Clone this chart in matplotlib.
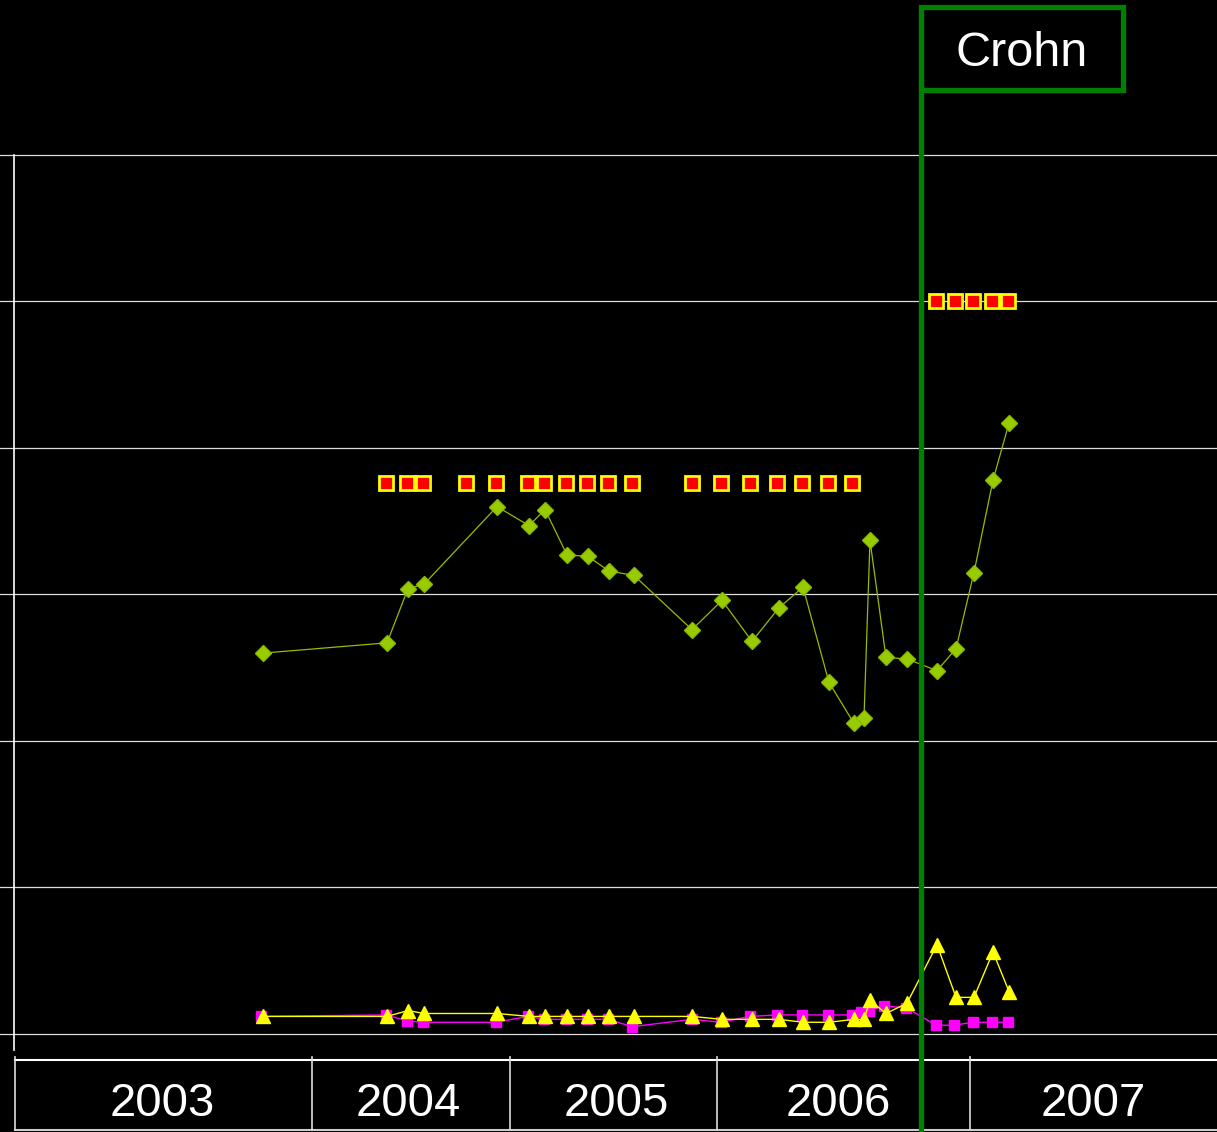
import matplotlib
matplotlib.use('Agg')
import matplotlib.pyplot as plt
from matplotlib.patches import Rectangle

plt.rcParams['font.family'] = ['Liberation Sans', 'DejaVu Sans']

# x positions along the time axis (chart units), values in chart units
diamond_x = [263, 387, 408, 424, 497, 529, 545, 567, 588, 609, 634, 692, 722, 752,
             779, 803, 829, 854, 864, 870, 886, 907, 937, 956, 974, 993, 1009]
diamond_y = [26.0, 26.7, 30.4, 30.7, 36.0, 34.7, 35.8, 32.7, 32.6, 31.6, 31.3, 27.6,
             29.6, 26.8, 29.1, 30.5, 24.0, 21.2, 21.6, 33.7, 25.7, 25.6, 24.8, 26.3,
             31.5, 37.8, 41.7]

dose_x = [386, 407, 423, 466, 496, 528, 544, 566, 587, 608, 632,
          692, 721, 750, 777, 802, 828, 852, 936, 955, 973, 992, 1008]
dose_y = [37.6] * 18 + [50.0] * 5

tri_x = [263, 387, 408, 424, 497, 529, 545, 567, 588, 609, 634, 692, 722, 752,
         779, 803, 829, 854, 864, 870, 886, 907, 937, 956, 974, 993, 1009]
tri_y = [1.2, 1.2, 1.6, 1.4, 1.4, 1.2, 1.2, 1.2, 1.2, 1.2, 1.2, 1.2, 1.0, 1.0,
         1.0, 0.8, 0.8, 1.0, 1.0, 2.3, 1.4, 2.1, 6.1, 2.5, 2.5, 5.6, 2.9]

mag_x = [261, 386, 407, 423, 496, 528, 544, 566, 587, 608, 632, 692, 721, 750,
         777, 802, 828, 852, 861, 869, 884, 906, 936, 954, 973, 992, 1008]
mag_y = [1.2, 1.3, 0.9, 0.8, 0.8, 1.2, 1.0, 1.0, 1.0, 1.0, 0.5, 1.0, 0.8, 1.2,
         1.3, 1.3, 1.3, 1.3, 1.5, 1.6, 1.9, 1.8, 0.6, 0.6, 0.8, 0.8, 0.8]

years = ['2003', '2004', '2005', '2006', '2007']
year_edges = [15, 312, 510, 717, 970, 1217]
grid_vals = [0, 10, 20, 30, 40, 50, 60]
crohn_x = 921

fig = plt.figure(figsize=(12.17, 11.32), dpi=100, facecolor='black')
ax = fig.add_axes([0, 0, 1, 1])
ax.set_facecolor('black')
ax.set_xlim(0, 1217)
ax.set_ylim(-6.69, 70.58)
ax.axis('off')

for g in grid_vals:
    ax.axhline(g, color='#dddddd', lw=0.9, zorder=1)
ax.plot([14, 14], [-1.1, 60], color='white', lw=1.2, zorder=1)

# year table under the plot
ax.plot([year_edges[0], year_edges[-1]], [-1.77, -1.77], color='white', lw=1.5)
ax.plot([year_edges[0], year_edges[-1]], [-6.55, -6.55], color='#cccccc', lw=1.5)
for e in year_edges[:-1]:
    ax.plot([e, e], [-1.6, -6.55], color='#dddddd', lw=1.2)
label_x = [162, 408, 616, 838, 1093]
for xc, yr in zip(label_x, years):
    ax.text(xc, -4.75, yr, color='white', fontsize=34, ha='center', va='center')

ax.plot(diamond_x, diamond_y, color='#99bb00', lw=0.9, marker='D', ms=8.5,
        mfc='#99cc00', mec='#88bb00', zorder=3)
ax.plot(dose_x, dose_y, ls='none', marker='s', ms=10, mfc='#ff0000',
        mec='#ffff00', mew=2, zorder=4)
ax.plot(mag_x, mag_y, color='#ff00ff', lw=1, marker='s', ms=7.5,
        mfc='#ff00ff', mec='#ff00ff', zorder=3)
ax.plot(tri_x, tri_y, color='#ffff00', lw=1, marker='^', ms=9.5,
        mfc='#ffff00', mec='#ffff00', zorder=4)

# Crohn marker
ax.plot([crohn_x, crohn_x], [-6.69, 65.0], color='#008000', lw=3.8, zorder=5)
fig.patches.append(Rectangle((921 / 1217, 1 - 90 / 1132), 202 / 1217, 83 / 1132,
                             transform=fig.transFigure, fill=False,
                             edgecolor='#008000', lw=3.8, zorder=5))
fig.text(1022 / 1217, 1 - 53 / 1132, 'Crohn', color='white', fontsize=35,
         ha='center', va='center')

fig.savefig('out.png', dpi=100, facecolor='black')
